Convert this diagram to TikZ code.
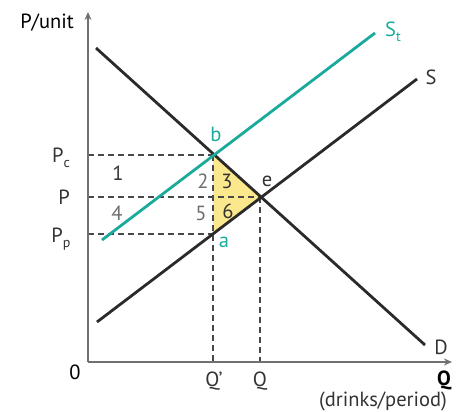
\documentclass[tikz,border=0pt]{standalone}
\usepackage{fontspec}
\setmainfont{PT Sans}
\usetikzlibrary{arrows.meta,positioning}

\definecolor{taxteal}{HTML}{1AAA9C}
\definecolor{dwlyellow}{HTML}{FBE78C}
\definecolor{curveblack}{HTML}{2A2A2A}
\definecolor{axisgray}{HTML}{707070}
\definecolor{guidegray}{HTML}{484848}
\definecolor{textgray}{HTML}{333333}
\definecolor{lightnum}{HTML}{6E6E6E}

\newcommand{\lowsub}[1]{\raisebox{-0.45ex}{\fontsize{14}{14}\selectfont #1}}

\begin{document}
\begin{tikzpicture}[x=1pt,y=-1pt,
  curve/.style={line width=2.8pt, draw=curveblack},
  guide/.style={line width=2pt, draw=guidegray, dash pattern=on 6pt off 4pt},
  lbl/.style={font=\fontsize{20.5}{22}\selectfont, text=textgray, inner sep=0pt}]
  \useasboundingbox (0,0) rectangle (461,412);

  % Points
  \coordinate (O) at (88,362);
  \coordinate (ytop) at (88,12);
  \coordinate (xend) at (452,362);
  \coordinate (Dstart) at (96,48);
  \coordinate (Dend) at (425,345);
  \coordinate (Sstart) at (97,322);
  \coordinate (Send) at (417,79);
  \coordinate (Ststart) at (102,240);
  \coordinate (Stend) at (375,33);
  \coordinate (b) at (213,155);
  \coordinate (e) at (260,197);
  \coordinate (a) at (213,234);
  \coordinate (yPc) at (88,155);
  \coordinate (yP) at (88,197);
  \coordinate (yPp) at (88,234);
  \coordinate (xQp) at (213,362);
  \coordinate (xQ) at (260,362);

  % Deadweight loss
  \fill[dwlyellow] (b) -- (e) -- (a) -- cycle;

  % Guides
  \draw[guide] (yPc) -- (b);
  \draw[guide] (yP) -- (e);
  \draw[guide] (yPp) -- (a);
  \draw[guide] (b) -- (xQp);
  \draw[guide] (e) -- (xQ);

  % Curves
  \draw[curve] (Dstart) -- (Dend);
  \draw[curve] (Sstart) -- (Send);
  \draw[line width=2.8pt, draw=taxteal] (Ststart) -- (Stend);

  % Axes
  \draw[line width=1.8pt, draw=axisgray, -{Stealth[length=8pt,width=7pt]}] (O) -- (ytop);
  \draw[line width=1.8pt, draw=axisgray, -{Stealth[length=8pt,width=7pt]}] (O) -- (xend);

  % Labels
  \node[lbl, text=black] (punit) at (47,23) {P/unit};
  \node[lbl] (lPc) at (61,158) {P\lowsub{c}};
  \node[lbl] (lP) at (64,197) {P};
  \node[lbl] (lPp) at (61,239) {P\lowsub{p}};
  \node[lbl] (r1) at (118,173) {1};
  \node[lbl, text=lightnum] (r4) at (117,213) {4};
  \node[lbl, text=lightnum] (r2) at (203,181) {2};
  \node[lbl] (r3) at (227,181) {3};
  \node[lbl, text=lightnum] (r5) at (201,213) {5};
  \node[lbl] (r6) at (228,211) {6};
  \node[lbl] (le) at (267,181) {e};
  \node[lbl, text=taxteal] (lb) at (216,134) {b};
  \node[lbl, text=taxteal] (la) at (224,242) {a};
  \node[lbl, text=taxteal] (lSt) at (393,32) {S\lowsub{t}};
  \node[lbl] (lS) at (431,77) {S};
  \node[lbl] (lD) at (441,347) {D};
  \node[lbl, text=black] (l0) at (75,372) {0};
  \node[lbl] (lQp) at (214,381) {Q'};
  \node[lbl] (lQ) at (260,381) {Q};
  \node[lbl, text=black, font=\fontsize{20.5}{22}\selectfont\bfseries] (lQax) at (444,380) {Q};
  \node[lbl] (lunits) at (383,401) {(drinks/period)};
\end{tikzpicture}
\end{document}
